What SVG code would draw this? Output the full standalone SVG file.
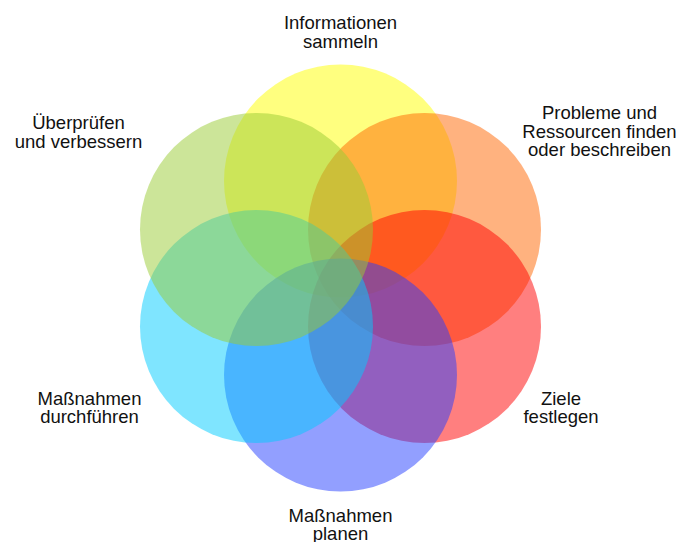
<svg xmlns="http://www.w3.org/2000/svg" width="691" height="542" viewBox="0 0 691 542">
<style>
.c{fill-opacity:0.5;stroke:none}
.t{font-family:"Liberation Sans",Arial,Helvetica,sans-serif;font-size:18.5px;fill:#111;text-anchor:middle}
</style>
<rect width="691" height="542" fill="#fff"/>
<g id="informationen"><circle class="c" cx="340.5" cy="181" r="116.5" fill="#ffff00"/><text class="t" x="340.5" y="29">Informationen</text><text class="t" x="340.5" y="47.5">sammeln</text></g>
<g id="probleme"><circle class="c" cx="424.5" cy="229.5" r="116.5" fill="#ff6600"/><text class="t" x="599.5" y="119.3">Probleme und</text><text class="t" x="599.5" y="137.7">Ressourcen finden</text><text class="t" x="599.5" y="156">oder beschreiben</text></g>
<g id="ziele"><circle class="c" cx="424.5" cy="326.5" r="116.5" fill="#ff0000"/><text class="t" x="561" y="405">Ziele</text><text class="t" x="561" y="423.3">festlegen</text></g>
<g id="planen"><circle class="c" cx="340.5" cy="375" r="116.5" fill="#2540ff"/><text class="t" x="340.5" y="521.7">Maßnahmen</text><text class="t" x="340.5" y="540">planen</text></g>
<g id="durchfuehren"><circle class="c" cx="256.5" cy="326.5" r="116.5" fill="#00ccff"/><text class="t" x="89.5" y="405">Maßnahmen</text><text class="t" x="89.5" y="423.3">durchführen</text></g>
<g id="ueberpruefen"><circle class="c" cx="256.5" cy="229.5" r="116.5" fill="#99cc33"/><text class="t" x="78.5" y="129.3">Überprüfen</text><text class="t" x="78.5" y="147.7">und verbessern</text></g>
<g id="connectors"></g>
</svg>
